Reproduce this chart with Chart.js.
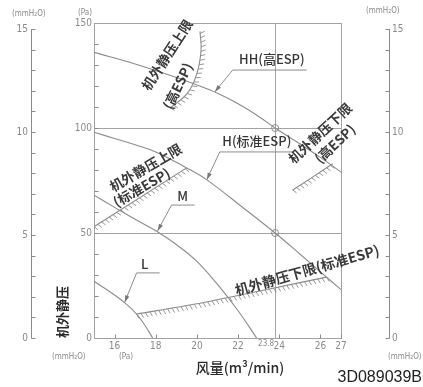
<!DOCTYPE html>
<html><head><meta charset="utf-8">
<script src="https://cdn.jsdelivr.net/npm/chart.js@4/dist/chart.umd.min.js"></script>
<style>html,body{margin:0;padding:0;background:#fff}canvas{display:block}</style>
</head><body>
<canvas id="c" width="423" height="387"></canvas>
<script>
// ---------- data ----------
const PA_PER_MMH2O = 9.80665;
const flowTickValues = [16, 18, 20, 22, 24, 26, 27];
const ratedFlow = 23.8;
const paTickValues = [0, 50, 100, 150];
const mmTickValues = [0, 5, 10, 15];
const curveHH = [[15,136],[17,130.5],[19,124],[20,120.5],[21,116.5],[22,111.5],[23,105.5],[23.8,100],[25,92.5],[26,86],[27,79]];
const curveH  = [[15,98],[16,95],[17,92],[18,88.6],[19.5,81],[20.5,75.2],[22.2,62.4],[23.8,50],[25,40],[26,31.5],[27,23]];
const curveM  = [[15,68],[16,62.2],[17,56.5],[18.1,50.5],[19,44.5],[20,36.5],[21,25.5],[22,13],[22.9,0]];
const curveL  = [[15,27],[16,20.5],[16.5,16.7],[17.07,11.4],[17.5,5.6],[17.85,0]];
const upperLimitHigh = [[18.7,109.5],[19.55,116.7],[20.0,126],[20.2,137],[20.15,146]];
const upperLimitStd  = [[15,53],[19.5,81]];
const lowerLimitHigh = [[24.65,70.5],[25.6,76.5],[26.6,83]];
const lowerLimitStd  = [[17.07,11.4],[20,16.3],[23,22.3],[26.3,29]];
const ratedPoints = [[23.8,100],[23.8,50]];
const curveNames = ['HH(高ESP)', 'H(标准ESP)', 'M', 'L'];
const upperLimitText = '机外静压上限';
const lowerLimitText = '机外静压下限';
const highEspText = '(高ESP)';
const stdEspText = '(标准ESP)';
const yTitle = '机外静压';
const xTitle = '风量(m³/min)';
const drawingNo = '3D089039B';

const toXY = a => a.map(([x, y]) => ({x, y}));
const CJK = '"Noto Sans CJK SC", "Noto Sans", sans-serif';
const NARROW = '"Liberation Sans Narrow", "DejaVu Sans Condensed", "Liberation Sans", sans-serif';
const LINE = '#8c8c8c', FRAME = '#a3a3a3', TXT = '#363636', TICK = '#8a8a8a';

function curveDs(data, tension) {
  return {type:'line', data: toXY(data), borderColor: LINE, borderWidth: 1.1,
          pointRadius: 0, tension: tension, fill: false};
}

function line(ctx, x1, y1, x2, y2) { ctx.beginPath(); ctx.moveTo(x1, y1); ctx.lineTo(x2, y2); ctx.stroke(); }

function densePts(meta) {
  const pts = meta.data, out = [];
  for (let i = 0; i < pts.length - 1; i++) {
    const a = pts[i], b = pts[i+1];
    const c1x = a.cp2x ?? a.x, c1y = a.cp2y ?? a.y, c2x = b.cp1x ?? b.x, c2y = b.cp1y ?? b.y;
    for (let k = 0; k < 20; k++) {
      const t = k / 20, u = 1 - t;
      out.push({x: u*u*u*a.x + 3*u*u*t*c1x + 3*u*t*t*c2x + t*t*t*b.x,
                y: u*u*u*a.y + 3*u*u*t*c1y + 3*u*t*t*c2y + t*t*t*b.y});
    }
  }
  const last = pts[pts.length-1]; out.push({x:last.x, y:last.y});
  return out;
}

function hatch(ctx, pts, spacing, len, rot) {
  let carry = 0;
  for (let i = 0; i < pts.length - 1; i++) {
    const p = pts[i], q = pts[i+1];
    const dx = q.x - p.x, dy = q.y - p.y, L = Math.hypot(dx, dy);
    if (L === 0) continue;
    const ux = dx / L, uy = dy / L, nx = -uy, ny = ux;
    const c = Math.cos(rot), s = Math.sin(rot);
    const rx = nx*c - ny*s, ry = nx*s + ny*c;
    let t = carry;
    for (; t <= L; t += spacing) {
      const bx = p.x + ux*t, by = p.y + uy*t;
      line(ctx, bx, by, bx + rx*len, by + ry*len);
    }
    carry = t - L;
  }
}

function arrowLeader(ctx, pts) {
  ctx.beginPath(); ctx.moveTo(pts[0].x, pts[0].y);
  for (let i = 1; i < pts.length; i++) ctx.lineTo(pts[i].x, pts[i].y);
  ctx.stroke();
  const a = pts[pts.length-2], b = pts[pts.length-1];
  const ang = Math.atan2(b.y - a.y, b.x - a.x);
  ctx.save(); ctx.translate(b.x, b.y); ctx.rotate(ang);
  ctx.beginPath(); ctx.moveTo(0, 0); ctx.lineTo(-7, -2.2); ctx.lineTo(-7, 2.2); ctx.closePath(); ctx.fill();
  ctx.restore();
}

function rotText(ctx, txt, x, y, deg) {
  ctx.save(); ctx.translate(x, y); ctx.rotate(deg * Math.PI / 180);
  ctx.textAlign = 'center'; ctx.textBaseline = 'middle';
  ctx.fillText(txt, 0, 0); ctx.restore();
}

const fanPlugin = {
  id: 'fanChart',
  beforeDatasetsDraw(chart) {
    const {ctx, chartArea: a, scales: {x, y, yL, yR}} = chart;
    ctx.save();
    ctx.strokeStyle = FRAME; ctx.lineWidth = 1;
    const L = Math.round(a.left) + 0.5, R = Math.round(a.right) + 0.5;
    const T = Math.round(a.top) + 0.5, B = Math.round(a.bottom) + 0.5;
    ctx.strokeRect(L, T, R - L, B - T);
    [50, 100].forEach(p => { const py = Math.round(y.getPixelForValue(p)) + 0.5; line(ctx, L, py, R, py); });
    const gx = Math.round(x.getPixelForValue(ratedFlow)) + 0.5;
    line(ctx, gx, T, gx, B);
    ctx.strokeStyle = TICK;
    for (let p = 10; p < 150; p += 10) { const py = Math.round(y.getPixelForValue(p)) + 0.5; line(ctx, L, py, L + 4, py); }
    flowTickValues.forEach(v => { const px = Math.round(x.getPixelForValue(v)) + 0.5; line(ctx, px, B, px, B - 4); });
    const lx = Math.round(yL.right) + 0.5;
    line(ctx, lx, yL.getPixelForValue(15), lx, B);
    for (let m = 0; m <= 15; m++) { const py = Math.round(yL.getPixelForValue(m)) + 0.5; line(ctx, lx, py, lx + 4, py); }
    const rx = Math.round(yR.left + 48) + 0.5;
    line(ctx, rx, yR.getPixelForValue(15), rx, B);
    for (let m = 0; m <= 15; m++) { const py = Math.round(yR.getPixelForValue(m)) + 0.5; line(ctx, rx, py, rx - 4, py); }
    ctx.restore();
  },
  afterDatasetsDraw(chart) {
    const {ctx, scales: {x, y}} = chart;
    const P = (v, p) => ({x: x.getPixelForValue(v), y: y.getPixelForValue(p)});
    ctx.save();
    ctx.strokeStyle = '#8c8c8c'; ctx.lineWidth = 0.9;
    [4, 5, 6, 7].forEach(i => hatch(ctx, densePts(chart.getDatasetMeta(i)), 4.5, 5, -0.35));
    ctx.strokeStyle = '#8c8c8c'; ctx.fillStyle = '#777'; ctx.lineWidth = 1;
    arrowLeader(ctx, [P(25.33,127.6), P(21.74,127.6), P(20.87,117.2)]);
    arrowLeader(ctx, [P(24.66,88.6), P(21.11,88.6), P(20.48,75.4)]);
    arrowLeader(ctx, [P(19.89,63.3), P(18.77,63.3), P(18.09,51)]);
    arrowLeader(ctx, [P(18.19,31), P(17.07,31), P(16.49,17)]);
    ctx.fillStyle = TXT; ctx.font = '500 13px ' + CJK;
    ctx.textAlign = 'center'; ctx.textBaseline = 'middle';
    let q = P(23.64, 132.6); ctx.fillText(curveNames[0], q.x, q.y);
    q = P(22.91, 93.6); ctx.fillText(curveNames[1], q.x, q.y);
    q = P(19.31, 67.4); ctx.fillText(curveNames[2], q.x, q.y);
    q = P(17.46, 35); ctx.fillText(curveNames[3], q.x, q.y);
    ctx.font = 'bold 13.5px ' + CJK; ctx.fillStyle = '#3a3a3a';
    q = P(18.55, 134.8); rotText(ctx, upperLimitText, q.x, q.y, -57);
    q = P(19.07, 120); rotText(ctx, highEspText, q.x, q.y, -64);
    q = P(17.51, 81.2); rotText(ctx, upperLimitText, q.x, q.y, -30);
    q = P(17.31, 71.7); rotText(ctx, stdEspText, q.x, q.y, -30);
    ctx.font = 'bold 14px ' + CJK;
    q = P(25.35, 32.3); rotText(ctx, lowerLimitText + stdEspText, q.x, q.y, -16);
    ctx.font = 'bold 13.5px ' + CJK;
    q = P(25.98, 97.5); rotText(ctx, lowerLimitText, q.x, q.y, -43);
    q = P(26.7, 92.5); rotText(ctx, highEspText, q.x, q.y, -43);
    ctx.restore();
  },
  afterDraw(chart) {
    const {ctx, scales: {x}} = chart;
    ctx.save();
    ctx.fillStyle = '#8a8a8a'; ctx.font = '8px ' + NARROW; ctx.textBaseline = 'middle';
    ctx.textAlign = 'left';
    ctx.fillText('(mmH₂O)', 12, 14);
    ctx.fillText('(Pa)', 78, 13);
    ctx.fillText('(mmH₂O)', 366, 11);
    ctx.fillText('(mmH₂O)', 52, 357);
    ctx.fillText('(Pa)', 119, 357);
    ctx.fillText('(mmH₂O)', 388, 357);
    ctx.font = '8px ' + NARROW; ctx.textAlign = 'right';
    ctx.fillText(String(ratedFlow), x.getPixelForValue(ratedFlow) - 1, 344);
    ctx.fillStyle = '#2a2a2a'; ctx.font = 'bold 13px ' + CJK;
    rotText(ctx, yTitle, 62, 312, -90);
    ctx.font = '500 14px ' + CJK; ctx.textAlign = 'center';
    ctx.fillText(xTitle, 240, 368);
    ctx.font = '16px "Liberation Sans", Arial, sans-serif'; ctx.fillStyle = '#222';
    ctx.textAlign = 'right'; ctx.fillText(drawingNo, 422, 378);
    ctx.restore();
  }
};

const tickFont = {family: NARROW, size: 10};
const mmMax = 150 / PA_PER_MMH2O;
const noPad = s => { s.paddingTop = 0; s.paddingBottom = 0; s.paddingLeft = 0; s.paddingRight = 0; };

new Chart(document.getElementById('c'), {
  data: {
    datasets: [
      curveDs(curveHH, 0.4),
      curveDs(curveH, 0.4),
      curveDs(curveM, 0.4),
      curveDs(curveL, 0.4),
      curveDs(upperLimitHigh, 0.4),
      curveDs(upperLimitStd, 0),
      curveDs(lowerLimitHigh, 0.3),
      curveDs(lowerLimitStd, 0.3),
      {type:'scatter', data: toXY(ratedPoints), pointRadius: 3.5, pointBorderWidth: 1,
       pointBorderColor: '#8c8c8c', pointBackgroundColor: 'rgba(255,255,255,0)', showLine: false}
    ]
  },
  options: {
    responsive: false, animation: false, devicePixelRatio: 1,
    layout: {autoPadding: false, padding: {top: 23, left: 0, right: 0, bottom: 0}},
    plugins: {legend: {display: false}, tooltip: {enabled: false}},
    scales: {
      x: {type: 'linear', min: 15, max: 27, position: 'bottom',
          grid: {display: false, drawTicks: false}, border: {display: false},
          afterBuildTicks: s => { s.ticks = flowTickValues.map(v => ({value: v})); },
          afterFit: s => { s.height = 49; noPad(s); },
          ticks: {padding: 2, color: TICK, font: tickFont, maxRotation: 0, autoSkip: false,
                  callback: v => String(v)}},
      y: {type: 'linear', position: 'left', weight: 0, min: 0, max: 150,
          grid: {display: false, drawTicks: false}, border: {display: false},
          afterBuildTicks: s => { s.ticks = paTickValues.map(v => ({value: v})); },
          afterFit: s => { s.width = 63; noPad(s); },
          ticks: {padding: 2, color: TICK, font: tickFont, callback: v => String(v)}},
      yL: {type: 'linear', position: 'left', weight: 1, min: 0, max: mmMax,
          grid: {display: false, drawTicks: false}, border: {display: false},
          afterBuildTicks: s => { s.ticks = mmTickValues.map(v => ({value: v})); },
          afterFit: s => { s.width = 31; noPad(s); },
          ticks: {padding: 3, color: TICK, font: tickFont, callback: v => String(v)}},
      yR: {type: 'linear', position: 'right', min: 0, max: mmMax,
          grid: {display: false, drawTicks: false}, border: {display: false},
          afterBuildTicks: s => { s.ticks = mmTickValues.map(v => ({value: v})); },
          afterFit: s => { s.width = 82; noPad(s); },
          ticks: {padding: 51, color: TICK, font: tickFont, callback: v => String(v)}}
    }
  },
  plugins: [fanPlugin]
});
</script>
</body></html>
